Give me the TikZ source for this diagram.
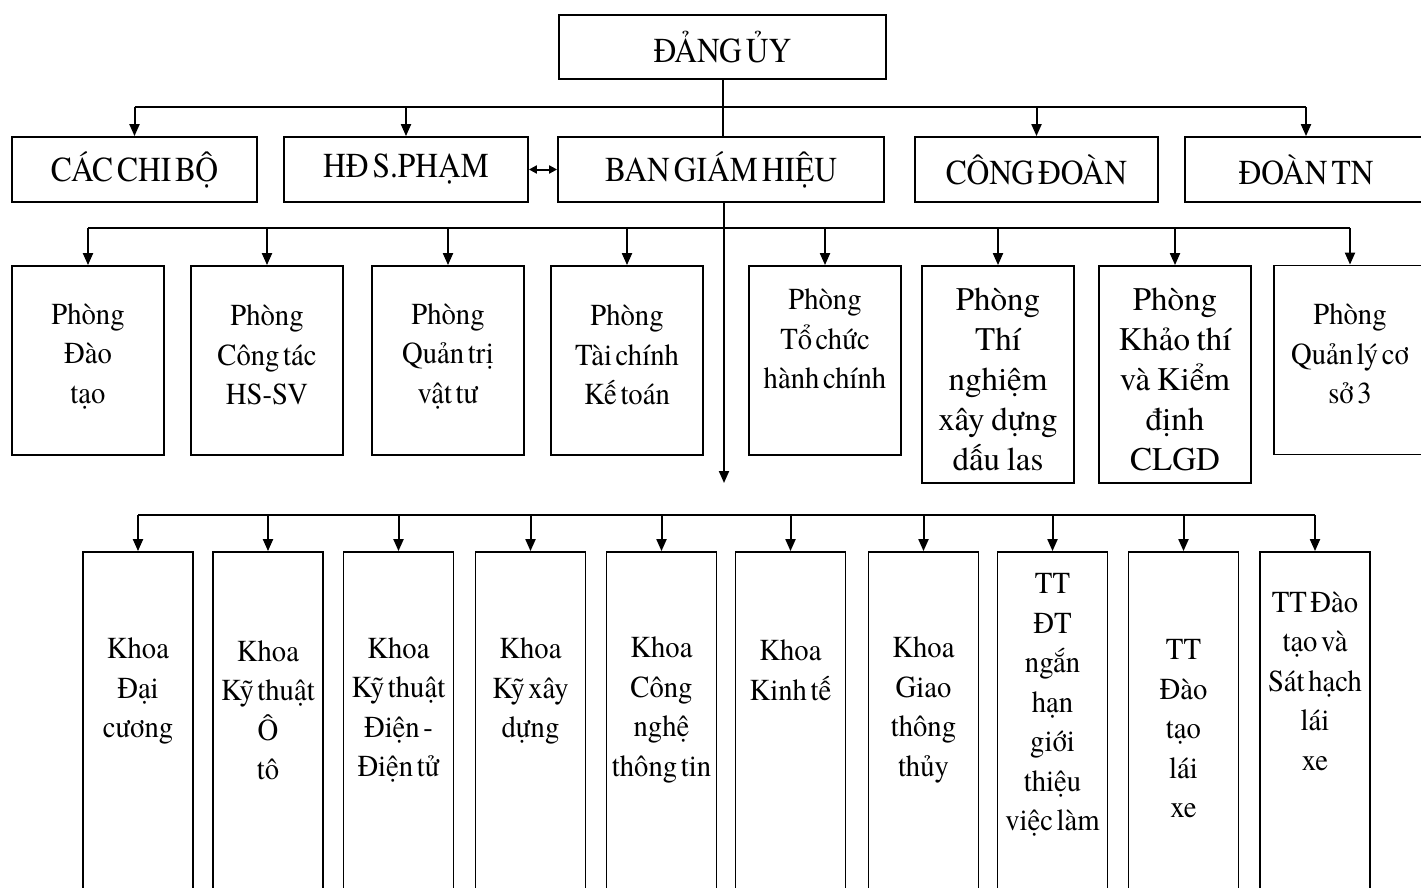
\documentclass[tikz,border=0pt]{standalone}
\usepackage{fontspec}
\newfontfamily\cfont{texgyretermes-regular.otf}[FakeStretch=0.9, WordSpace=0.5]
\newfontfamily\tfont{texgyretermes-regular.otf}[FakeStretch=0.94, WordSpace=0.5]
\newfontfamily\wfont{texgyretermes-regular.otf}[WordSpace=0.8]
\usetikzlibrary{arrows.meta}
\begin{document}
\begin{tikzpicture}[x=1pt,y=-1pt,
  box/.style={draw, line width=1.8pt, inner sep=0pt, align=center, font=\cfont\fontsize{35}{40}\selectfont},
  frame/.style={draw, line width=1.8pt, inner sep=0pt},
  tb/.style={align=center, inner sep=0pt, font=\tfont\fontsize{30.5}{39.5}\selectfont},
  tw/.style={align=center, inner sep=0pt, font=\wfont\fontsize{33}{40}\selectfont},
  ln/.style={line width=2pt},
  arr/.style={line width=2pt, -{Triangle[length=12pt,width=10pt]}},
  darr/.style={line width=2pt, {Triangle[length=8pt,width=8pt]}-{Triangle[length=8pt,width=8pt]}}
]
\useasboundingbox (0,0) rectangle (1421,888);
\clip (0,0) rectangle (1421,888);

% Row 1
\node[box, minimum width=327, minimum height=64] (dang) at (722.5,47) {ĐẢNG ỦY};

% Row 2
\node[box, minimum width=245, minimum height=65] (cb)  at (134.5,169.5) {CÁC CHI BỘ};
\node[box, minimum width=244, minimum height=65] (hd)  at (406,169.5) {HĐ S.PHẠM};
\node[box, minimum width=326, minimum height=65] (bgh) at (721,169.5) {BAN GIÁM HIỆU};
\node[box, minimum width=243, minimum height=65] (cd)  at (1036.5,169.5) {CÔNG ĐOÀN};
\node[box, minimum width=242, minimum height=65] (dtn) at (1306,169.5) {ĐOÀN TN};

\coordinate (r1) at (0,107);
\draw[ln] (dang.south) -- (dang.south |- bgh.north);
\draw[ln] (r1 -| cb.north) -- (r1 -| dtn.north);
\foreach \n in {cb,hd,cd,dtn} \draw[arr] (r1 -| \n.north) -- (\n.north);
\draw[darr] (hd.east) -- (bgh.west);

% Row 3
\node[frame, minimum width=152, minimum height=189] (p1) at (88,360.5) {};
\node[frame, minimum width=152, minimum height=189] (p2) at (267,360.5) {};
\node[frame, minimum width=152, minimum height=189] (p3) at (448,360.5) {};
\node[frame, minimum width=152, minimum height=189] (p4) at (627,360.5) {};
\node[frame, minimum width=152, minimum height=189] (p5) at (825,360.5) {};
\node[frame, minimum width=152, minimum height=217] (p6) at (998,374.5) {};
\node[frame, minimum width=152, minimum height=217] (p7) at (1175,374.5) {};
\node[frame, minimum width=152, minimum height=189] (p8) at (1350,360) {};

\node[tb] (p1t) at (88,356) {Phòng\\Đào\\tạo};
\node[tb] (p2t) at (267,355) {Phòng\\Công tác\\HS-SV};
\node[tb] (p3t) at (448,356) {Phòng\\Quản trị\\vật tư};
\node[tb] (p4t) at (627,355) {Phòng\\Tài chính\\Kế toán};
\node[tb] (p5t) at (825,339) {Phòng\\Tổ chức\\hành chính};
\node[tw] (p6t) at (998,379) {Phòng\\Thí\\nghiệm\\xây dựng\\dấu las};
\node[tw] (p7t) at (1175,379) {Phòng\\Khảo thí\\và Kiểm\\định\\CLGD};
\node[tb] (p8t) at (1350,354) {Phòng\\Quản lý cơ\\sở 3};

\coordinate (r2) at (0,228);
\coordinate (down) at (724,483);
\draw[arr] (bgh.south -| down) -- (down);
\draw[ln] (r2 -| p1.north) -- (r2 -| p8.north);
\foreach \n in {p1,p2,p3,p4,p5,p6,p7,p8} \draw[arr] (r2 -| \n.north) -- (\n.north);

% Row 4
\foreach \n/\x in {k1/138,k2/268,k3/398.5,k4/530.5,k5/661.5,k6/790.5,k7/923.5,k8/1052.5,k9/1183.5,k10/1315}
  \node[frame, minimum width=110, minimum height=358] (\n) at (\x,731) {};

\node[tb] (k1t)  at (138,691) {Khoa\\Đại\\cương};
\node[tb] (k2t)  at (268,710) {Khoa\\Kỹ thuật\\Ô\\tô};
\node[tb] (k3t)  at (398.5,710) {Khoa\\Kỹ thuật\\Điện -\\Điện tử};
\node[tb] (k4t)  at (530.5,691) {Khoa\\Kỹ xây\\dựng};
\node[tb] (k5t)  at (661.5,710) {Khoa\\Công\\nghệ\\thông tin};
\node[tb] (k6t)  at (790.5,670) {Khoa\\Kinh tế};
\node[tb] (k7t)  at (923.5,710) {Khoa\\Giao\\thông\\thủy};
\node[tb] (k8t)  at (1052.5,705) {TT\\ĐT\\ngắn\\hạn\\giới\\thiệu\\việc làm};
\node[tb] (k9t)  at (1183.5,729) {TT\\Đào\\tạo\\lái\\xe};
\node[tb] (k10t) at (1315,681) {TT Đào\\tạo và\\Sát hạch\\lái\\xe};

\coordinate (r3) at (0,515);
\draw[ln] (r3 -| k1.north) -- (r3 -| k10.north);
\foreach \n in {k1,k2,k3,k4,k5,k6,k7,k8,k9,k10} \draw[arr] (r3 -| \n.north) -- (\n.north);
\end{tikzpicture}
\end{document}
